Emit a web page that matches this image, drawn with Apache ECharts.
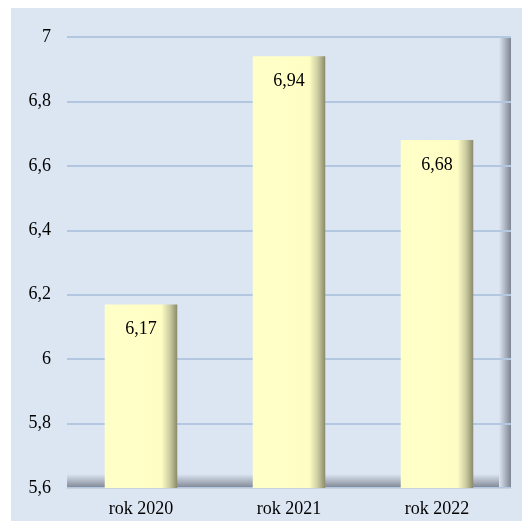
<!DOCTYPE html>
<html><head><meta charset="utf-8">
<script src="https://cdn.jsdelivr.net/npm/echarts@6/dist/echarts.min.js"></script>
<style>html,body{margin:0;padding:0;background:#fff}#c{width:527px;height:528px}</style>
</head><body><div id="c"></div>
<script>
var categories = ['rok 2020', 'rok 2021', 'rok 2022'];
var values = [6.17, 6.94, 6.68];
var yTicks = [5.6, 5.8, 6.0, 6.2, 6.4, 6.6, 6.8, 7.0];

var FONT = '"Liberation Serif", "Times New Roman", serif';
function fmt(v){ return String(Math.round(v*100)/100).replace('.', ','); }

var chart = echarts.init(document.getElementById('c'), null, {renderer:'canvas'});
var option = {
  animation: false,
  backgroundColor: '#ffffff',
  grid: {left: 67, right: 16, top: 37, bottom: 40, containLabel: false},
  xAxis: {
    type: 'category', data: categories,
    axisLine: {show: true, lineStyle: {color: '#c9d2dc', width: 1}},
    axisTick: {show: false},
    axisLabel: {color: '#000', fontFamily: FONT, fontSize: 18, margin: 12}
  },
  yAxis: {
    type: 'value', min: yTicks[0], max: yTicks[yTicks.length-1], interval: 0.2,
    axisLine: {show: false}, axisTick: {show: false},
    axisLabel: {color: '#000', fontFamily: FONT, fontSize: 18, margin: 16, formatter: fmt},
    splitLine: {show: true, lineStyle: {color: '#b4c7e0', width: 2}}
  },
  series: [{
    type: 'bar', data: values, barWidth: '49%', z: 3,
    itemStyle: {
      color: new echarts.graphic.LinearGradient(0, 0, 1, 0, [
        {offset: 0, color: '#ffffc8'},
        {offset: 0.78, color: '#fefec4'},
        {offset: 0.9, color: '#cbcba0'},
        {offset: 1, color: '#8a8a6c'}
      ])
    },
    label: {show: true, position: 'insideTop', distance: 16, color: '#000', fontFamily: FONT, fontSize: 18, formatter: function(p){return fmt(p.value);}}
  }]
};
chart.setOption(option);

var pTop = chart.convertToPixel({yAxisIndex:0}, yTicks[yTicks.length-1]);
var pBot = chart.convertToPixel({yAxisIndex:0}, yTicks[0]);
var gLeft = 67, gRight = 527 - 16;
chart.setOption({
  graphic: [
    {type:'rect', z:-20, silent:true, shape:{x:11, y:8, width:511, height:513},
     style:{fill:'#dce6f2'}},
    {type:'rect', z:-10, silent:true, shape:{x:gLeft, y:pBot-14, width:gRight-gLeft, height:14},
     style:{fill:new echarts.graphic.LinearGradient(0,0,0,1,[{offset:0,color:'#dce6f2'},{offset:1,color:'#7e8592'}])}},
    {type:'rect', z:-10, silent:true, shape:{x:gRight-12, y:pTop, width:12, height:pBot-pTop},
     style:{fill:new echarts.graphic.LinearGradient(0,0,1,0,[{offset:0,color:'#dce6f2'},{offset:1,color:'#7e8592'}])}}
  ]
});
</script></body></html>
